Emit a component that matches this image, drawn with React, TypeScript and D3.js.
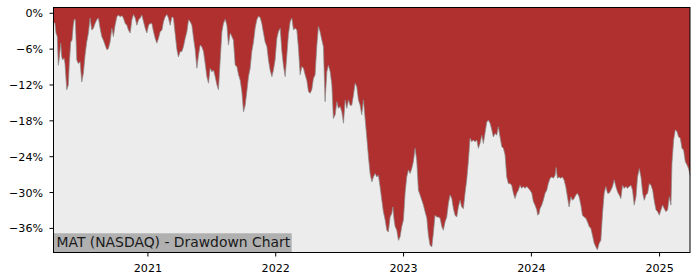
import React from "react";
import * as d3 from "d3";

// Drawdown series: decimal year -> drawdown (%)
const years = [
  2020.262, 2020.275, 2020.283, 2020.293, 2020.301, 2020.309, 2020.320, 2020.328, 2020.335, 2020.346,
  2020.353, 2020.367, 2020.379, 2020.387, 2020.398, 2020.408, 2020.418, 2020.426, 2020.434, 2020.445,
  2020.457, 2020.471, 2020.484, 2020.497, 2020.510, 2020.523, 2020.536, 2020.549, 2020.562, 2020.575,
  2020.588, 2020.601, 2020.614, 2020.627, 2020.640, 2020.653, 2020.666, 2020.680, 2020.692, 2020.705,
  2020.719, 2020.731, 2020.744, 2020.758, 2020.770, 2020.784, 2020.797, 2020.809, 2020.823, 2020.836,
  2020.848, 2020.862, 2020.875, 2020.888, 2020.901, 2020.914, 2020.927, 2020.940, 2020.953, 2020.966,
  2020.979, 2020.992, 2021.005, 2021.018, 2021.031, 2021.044, 2021.057, 2021.070, 2021.083, 2021.096,
  2021.110, 2021.122, 2021.135, 2021.149, 2021.161, 2021.174, 2021.188, 2021.200, 2021.214, 2021.227,
  2021.239, 2021.253, 2021.266, 2021.278, 2021.292, 2021.305, 2021.318, 2021.331, 2021.344, 2021.357,
  2021.370, 2021.383, 2021.396, 2021.409, 2021.422, 2021.435, 2021.448, 2021.461, 2021.474,
  2021.487, 2021.501, 2021.513, 2021.526, 2021.540, 2021.552, 2021.565, 2021.579, 2021.591, 2021.605,
  2021.618, 2021.630, 2021.644, 2021.657, 2021.669, 2021.683, 2021.696, 2021.709, 2021.722, 2021.735,
  2021.748, 2021.761, 2021.774, 2021.787, 2021.800, 2021.813, 2021.826, 2021.839, 2021.852, 2021.865,
  2021.878, 2021.891, 2021.904, 2021.917, 2021.931, 2021.943, 2021.956, 2021.970, 2021.982, 2021.995,
  2022.009, 2022.021, 2022.035, 2022.048, 2022.060, 2022.074, 2022.087, 2022.099, 2022.113, 2022.126,
  2022.139, 2022.152, 2022.165, 2022.178, 2022.191, 2022.204, 2022.217, 2022.230, 2022.243, 2022.256,
  2022.269, 2022.282, 2022.295, 2022.308, 2022.322, 2022.334, 2022.347, 2022.361, 2022.373, 2022.386,
  2022.400, 2022.412, 2022.426, 2022.439, 2022.451, 2022.465, 2022.478, 2022.490, 2022.504, 2022.517,
  2022.530, 2022.543, 2022.556, 2022.569, 2022.582, 2022.595, 2022.608, 2022.621, 2022.634, 2022.647,
  2022.660, 2022.673, 2022.686, 2022.699,
  2022.712, 2022.725, 2022.738, 2022.752, 2022.764, 2022.777, 2022.791, 2022.803, 2022.816, 2022.830,
  2022.842, 2022.856, 2022.869, 2022.881, 2022.895, 2022.908, 2022.916, 2022.926, 2022.934, 2022.947,
  2022.960, 2022.973, 2022.986, 2022.999, 2023.012, 2023.025, 2023.038, 2023.051, 2023.064, 2023.077,
  2023.090, 2023.103, 2023.116, 2023.129, 2023.143, 2023.155, 2023.168, 2023.182, 2023.194, 2023.207,
  2023.221, 2023.233, 2023.246, 2023.260, 2023.272, 2023.286, 2023.299, 2023.311, 2023.325, 2023.338,
  2023.351, 2023.364, 2023.377, 2023.390, 2023.403, 2023.416, 2023.429, 2023.442, 2023.455, 2023.468,
  2023.481, 2023.494, 2023.507, 2023.520, 2023.533, 2023.546, 2023.559, 2023.573, 2023.585, 2023.598,
  2023.612, 2023.624, 2023.637, 2023.651, 2023.663, 2023.677, 2023.690, 2023.702, 2023.716, 2023.729,
  2023.741, 2023.755, 2023.768, 2023.781, 2023.794, 2023.807, 2023.820, 2023.833, 2023.846, 2023.859,
  2023.872, 2023.885, 2023.898, 2023.911, 2023.924, 2023.937, 2023.950, 2023.964, 2023.976, 2023.989,
  2024.003, 2024.015, 2024.028, 2024.042, 2024.049, 2024.060, 2024.067, 2024.081, 2024.093, 2024.107,
  2024.120, 2024.132, 2024.146, 2024.159, 2024.172, 2024.185, 2024.193, 2024.203, 2024.216, 2024.229,
  2024.242, 2024.255, 2024.268, 2024.281, 2024.294, 2024.308, 2024.320, 2024.333, 2024.347, 2024.359,
  2024.372, 2024.386, 2024.398, 2024.412, 2024.425, 2024.437, 2024.451, 2024.464, 2024.476, 2024.490,
  2024.503, 2024.515, 2024.529, 2024.542, 2024.555, 2024.568, 2024.581, 2024.594, 2024.607, 2024.620,
  2024.633, 2024.646, 2024.659, 2024.672, 2024.685, 2024.698, 2024.711, 2024.724, 2024.738, 2024.750,
  2024.763, 2024.777, 2024.789, 2024.802, 2024.816, 2024.828, 2024.842, 2024.855, 2024.868, 2024.881,
  2024.894, 2024.907, 2024.920, 2024.933, 2024.946, 2024.959, 2024.972, 2024.985, 2024.998, 2025.011,
  2025.024, 2025.037, 2025.050, 2025.063, 2025.076, 2025.089, 2025.097, 2025.110, 2025.123, 2025.136,
  2025.149, 2025.162, 2025.175, 2025.188, 2025.201, 2025.215, 2025.227, 2025.238,
];

const drawdown = [
  -1.4, -1.7, -3.3, -3.9, -8.7, -7.5, -5.0, -7.3, -7.8, -7.5,
  -8.4, -12.8, -12.0, -8.4, -4.8, -4.5, -2.0, -1.0, -1.1, -7.8,
  -8.4, -8.1, -11.5, -10.0, -7.0, -4.8, -3.3, -0.8, -2.8, -2.5,
  -1.7, -1.1, -0.8, -2.5, -3.9, -4.5, -5.3, -6.1, -5.9, -4.8,
  -2.5, -3.9, -2.0, -0.6, -0.3, -0.6, -0.4, -0.8, -1.7, -2.0,
  -2.8, -3.3, -1.1, -0.2, -0.8, -2.0, -1.1, -0.8, -0.3, -1.4,
  -2.5, -3.3, -2.0, -1.7, -1.7, -3.1, -4.2, -5.0, -4.2, -3.1,
  -2.8, -1.4, -0.6, -0.2, -0.8, -2.0, -0.6, -0.8, -3.6, -6.1,
  -7.3, -6.4, -6.4, -5.6, -4.2, -3.1, -1.1, -1.4, -2.0, -4.2,
  -6.1, -9.2, -7.0, -5.3, -5.6, -6.4, -8.4, -10.6, -11.7,
  -9.2, -9.8, -9.5, -10.6, -12.0, -12.8, -8.1, -3.1, -1.7, -1.0,
  -2.0, -5.3, -3.3, -3.9, -4.5, -8.7, -8.9, -10.3, -11.2, -13.1,
  -16.5, -15.4, -13.1, -10.6, -9.2, -6.4, -4.8, -2.5, -1.1, -0.5,
  -0.7, -1.7, -3.3, -4.8, -5.6, -7.8, -9.5, -10.6, -9.5, -7.8,
  -4.2, -3.1, -2.5, -6.4, -8.7, -10.6, -7.0, -3.6, -1.4, -0.8,
  -2.8, -2.5, -2.8, -5.9, -10.3, -8.9, -9.2, -10.3, -11.2, -13.1,
  -13.4, -12.8, -10.9, -10.3, -5.3, -2.2, -3.1, -4.5, -5.6, -14.8,
  -9.8, -8.7, -9.8, -12.0, -17.6, -17.0, -14.8, -15.9, -15.6, -16.5,
  -18.4, -14.5, -15.9, -14.5, -15.4, -15.4, -13.7, -11.7, -12.3, -14.5,
  -15.4, -17.0, -14.5, -17.6,
  -20.7, -24.0, -26.8, -28.2, -27.4, -26.8, -27.4, -27.1, -29.0, -31.3,
  -33.2, -34.6, -36.3, -36.6, -34.1, -33.5, -32.4, -34.6, -35.7, -36.3,
  -38.0, -37.4, -35.7, -34.6, -30.1, -27.4, -26.2, -26.8, -26.0, -24.8,
  -22.6, -24.6, -29.6, -30.4, -31.3, -32.1, -33.2, -34.3, -37.1, -38.8,
  -39.1, -36.8, -33.8, -34.1, -34.1, -34.3, -35.7, -36.3, -34.9, -34.1,
  -31.8, -30.4, -31.0, -32.7, -33.8, -34.1, -32.4, -31.3, -32.4, -32.7,
  -30.1, -27.9, -24.8, -20.9, -21.5, -21.2, -21.5, -21.2, -22.6, -21.8,
  -20.4, -21.8, -20.1, -18.2, -17.9, -18.4, -19.5, -20.7, -20.1, -20.4,
  -19.0, -20.7, -22.3, -22.6, -23.7, -27.4, -28.5, -28.5, -28.8, -30.1,
  -31.0, -30.1, -29.6, -28.8, -29.3, -29.0, -29.3, -29.0, -29.3, -29.6,
  -30.1, -31.5, -32.1, -32.9, -33.8, -33.5, -32.7, -32.1, -31.3, -30.1,
  -29.6, -28.5, -27.6, -27.4, -27.6, -27.1, -25.8, -27.6, -27.4, -27.6,
  -27.4, -27.9, -29.0, -30.7, -32.4, -30.7, -31.3, -31.0, -30.4, -30.1,
  -30.7, -32.1, -33.8, -34.1, -34.3, -34.9, -35.7, -36.0, -37.1, -38.5,
  -39.1, -39.6, -38.5, -38.0, -33.5, -30.1, -29.0, -30.1, -30.1, -29.6,
  -29.0, -27.9, -29.0, -29.9, -30.4, -31.0, -28.8, -29.3, -29.0, -29.3,
  -29.0, -28.8, -29.6, -32.1, -30.7, -27.4, -26.0, -27.4, -30.1, -31.3,
  -30.4, -30.1, -28.5, -28.8, -29.6, -31.5, -32.9, -33.2, -33.8, -32.9,
  -32.1, -32.7, -33.2, -32.9, -30.7, -32.1, -25.1, -21.2, -19.5, -19.8,
  -20.7, -20.9, -22.6, -22.9, -24.8, -25.4, -26.0, -27.1,
];

const xTickYears = [2021, 2022, 2023, 2024, 2025];
const yTicks = [0, -6, -12, -18, -24, -30, -36];
const yDomain: [number, number] = [-40, 1];
const title = "MAT (NASDAQ) - Drawdown Chart";

const W = 700;
const H = 280;
const PLOT = { left: 53.3, right: 690, top: 7.3, bottom: 252.3 };
const FONT = "'DejaVu Sans', sans-serif";

function yearToDate(y: number): Date {
  const yr = Math.floor(y);
  const a = Date.UTC(yr, 0, 1);
  const b = Date.UTC(yr + 1, 0, 1);
  return new Date(a + (y - yr) * (b - a));
}

export default function App() {
  const data = years.map((t, i) => ({ date: yearToDate(t), v: drawdown[i] }));
  const x = d3
    .scaleUtc()
    .domain(d3.extent(data, (d) => d.date) as [Date, Date])
    .range([PLOT.left, PLOT.right]);
  const y = d3.scaleLinear().domain(yDomain).range([PLOT.bottom, PLOT.top]);

  const area = d3
    .area<{ date: Date; v: number }>()
    .x((d) => x(d.date))
    .y0(y(yDomain[1]))
    .y1((d) => y(d.v));
  const line = d3
    .line<{ date: Date; v: number }>()
    .x((d) => x(d.date))
    .y((d) => y(d.v));

  const fmt = (v: number) => (v < 0 ? "\u2212" + Math.abs(v) : String(v)) + "%";
  const L = 53.5, R = 690, T = 7.5, B = 252.5;

  return (
    <svg
      width={W}
      height={H}
      style={{ position: "absolute", left: 0, top: 0, background: "#fff" }}
      fontFamily={FONT}
    >
      <rect x={L} y={T} width={R - L} height={B - T} fill="#ececec" />
      <path d={area(data) || ""} fill="#b03030" />
      <path d={line(data) || ""} fill="none" stroke="#8c8c8c" strokeWidth={0.9} strokeOpacity={0.8} />

      {/* title box */}
      <rect x={L} y={233.3} width={291.7 - L} height={B - 233.3} fill="#b0b0b0" />
      <text x={56.5} y={246.8} fontSize={13.9} fill="#1a1a1a">
        {title}
      </text>

      {/* frame */}
      <rect x={L} y={T} width={R - L} height={B - T} fill="none" stroke="#000" strokeWidth={1} />

      {/* y axis */}
      {yTicks.map((t) => (
        <g key={t}>
          <line x1={L - 4} x2={L} y1={y(t)} y2={y(t)} stroke="#000" strokeWidth={1} />
          <text x={43} y={y(t)} dy="0.36em" textAnchor="end" fontSize={11.1} fill="#000">
            {fmt(t)}
          </text>
        </g>
      ))}

      {/* x axis */}
      {xTickYears.map((yr) => {
        const px = x(yearToDate(yr));
        return (
          <g key={yr}>
            <line x1={px} x2={px} y1={B} y2={B + 4} stroke="#000" strokeWidth={1} />
            <text x={px} y={271.5} textAnchor="middle" fontSize={11.1} fill="#000">
              {yr}
            </text>
          </g>
        );
      })}
    </svg>
  );
}
